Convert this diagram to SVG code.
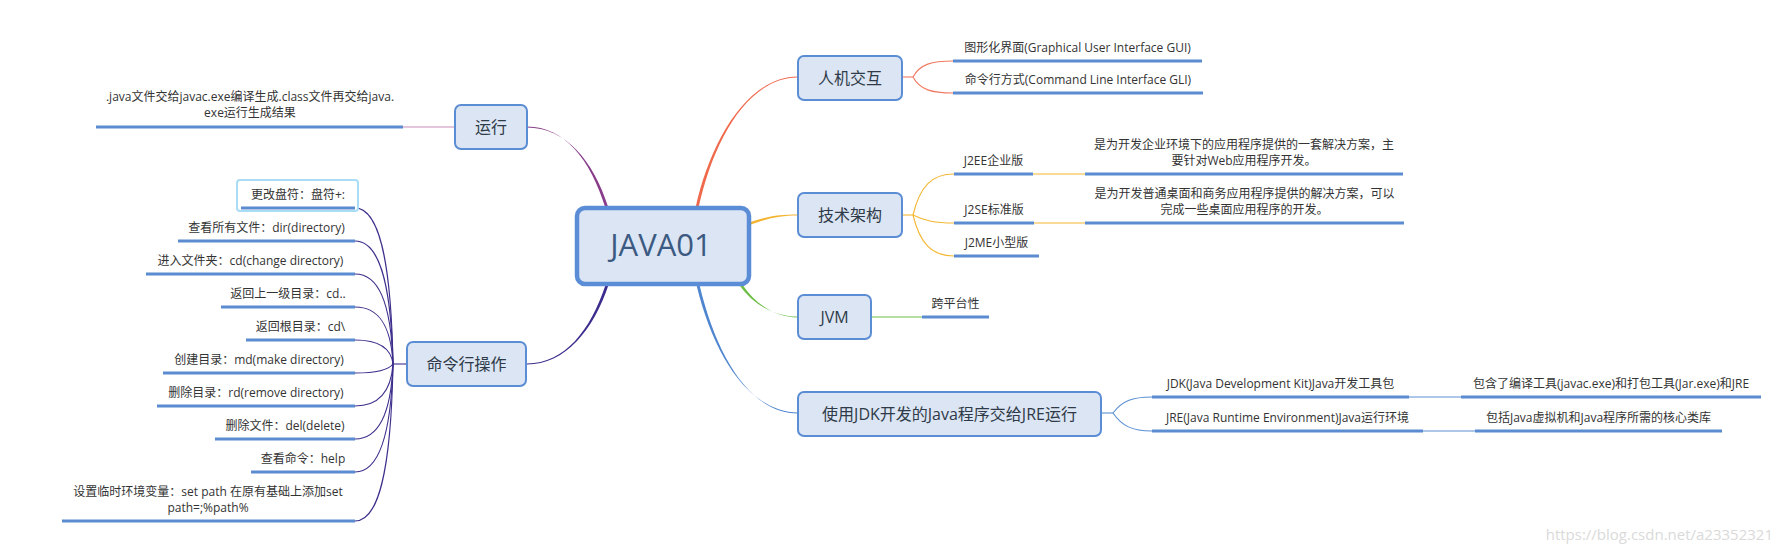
<svg xmlns="http://www.w3.org/2000/svg" width="1783" height="553" viewBox="0 0 1783 553">
<style>
text{font-family:"Open Sans","Noto Sans CJK SC",sans-serif;fill:#333;}
.c{font-size:12px;text-anchor:middle;}
.n{font-size:16px;text-anchor:middle;fill:#2f3a48;}
.box{fill:#dbe5f3;stroke:#5b8dd4;stroke-width:2;}
.ul{stroke:#5b8bd0;stroke-width:3;fill:none;}
.thin{fill:none;stroke-width:1.1;}
</style>
<rect width="1783" height="553" fill="#fff"/>
<g id="connectors">
  <path d="M605.5,208 C590.5,160 565,126.5 527,126.5 L527,127.5 C565,127.5 593.5,160 608.5,208 Z" fill="#883c8a"/>
  <path d="M695.5,208 C710.5,140 748,76.5 798,76.5 L798,77.5 C748,77.5 713.5,140 698.5,208 Z" fill="#ef6a4c"/>
  <path d="M749,222.8 C768,215.8 780,214.5 798,214.5 L798,215.5 C780,215.5 768,218.2 749,225.2 Z" fill="#f3b531"/>
  <path d="M739.8,285.5 C754,305.5 775,316.5 798,316.5 L798,317.5 C775,317.5 756,304.5 742.2,284.5 Z" fill="#6cbe45"/>
  <path d="M696.5,285 C714.5,360 752,412.5 798,412.5 L798,413.5 C752,413.5 717.5,360 699.5,285 Z" fill="#4f86cf"/>
  <path d="M605.5,285 C590.5,330 565,363.5 527,363.5 L527,364.5 C565,364.5 593.5,330 608.5,285 Z" fill="#3d2c8d"/>
  <path class="thin" stroke="#c98db9" stroke-width="1.5" d="M403,127 H455"/>
  <g class="thin" stroke="#f07a62">
    <path d="M902,77 H913"/>
    <path d="M913,77 C920,64 932,61 953,61"/>
    <path d="M913,77 C920,90 932,93 953,93"/>
  </g>
  <g class="thin" stroke="#f4b731">
    <path d="M902,215 H913"/>
    <path d="M913,215 C920,186 932,174 954,174"/>
    <path d="M913,215 C925,221 935,223 954,223"/>
    <path d="M913,215 C920,244 932,256 954,256"/>
    <path d="M1033,174 H1085"/>
    <path d="M1034,223 H1085"/>
  </g>
  <path class="thin" stroke="#6cbe45" d="M871,317 H922"/>
  <g class="thin" stroke="#5a8fd2">
    <path d="M1101,413 H1113"/>
    <path d="M1113,413 C1122,401 1132,397 1152,397"/>
    <path d="M1113,413 C1122,426 1132,431 1152,431"/>
    <path d="M1409,397 H1461"/>
    <path d="M1423,431 H1475"/>
  </g>
  <g class="thin" stroke="#3d2e8c">
    <path d="M393,364 H407"/>
    <path d="M393,364 C391,255 378,208 355,208"/>
    <path d="M393,364 C391,278 378,241 355,241"/>
    <path d="M393,364 C391,301 378,274 355,274"/>
    <path d="M393,364 C391,324 378,307 355,307"/>
    <path d="M393,364 C391,347 378,340 355,340"/>
    <path d="M393,364 C388,371 375,373 355,373"/>
    <path d="M393,364 C391,393 378,406 355,406"/>
    <path d="M393,364 C391,416 378,439 355,439"/>
    <path d="M393,364 C391,439 378,472 355,472"/>
    <path d="M393,364 C391,474 378,521 355,521"/>
  </g>
</g>
<g id="root">
  <rect x="577" y="208" width="172" height="76" rx="8" fill="#dbe5f3" stroke="#5b8dd6" stroke-width="4.5"/>
  <text x="661" y="256" style="font-size:31px;text-anchor:middle;fill:#3b5a82">JAVA01</text>
</g>
<g id="n-run">
  <rect class="box" x="455" y="105" width="72" height="44" rx="6"/>
  <text class="n" x="491" y="133">运行</text>
</g>
<g id="n-run-1">
  <text class="c" x="250" y="101">.java文件交给javac.exe编译生成.class文件再交给java.</text>
  <text class="c" x="250" y="117">exe运行生成结果</text>
  <path class="ul" d="M96,127 H403"/>
</g>
<g id="n-cmd">
  <rect class="box" x="407" y="342" width="119" height="44" rx="6"/>
  <text class="n" x="466.5" y="370">命令行操作</text>
</g>
<g id="n-cmd-1">
  <rect x="237" y="180" width="121" height="31" rx="3" fill="#fff" stroke="#a9ddf5" stroke-width="2"/>
  <text class="c" x="298" y="199">更改盘符：盘符+:</text>
  <path class="ul" d="M241,208 H355"/>
</g>
<g id="n-cmd-2"><text class="c" x="266.5" y="232">查看所有文件：dir(directory)</text><path class="ul" d="M178,241 H355"/></g>
<g id="n-cmd-3"><text class="c" x="250.5" y="265">进入文件夹：cd(change directory)</text><path class="ul" d="M146,274 H355"/></g>
<g id="n-cmd-4"><text class="c" x="288" y="298">返回上一级目录：cd..</text><path class="ul" d="M221,307 H355"/></g>
<g id="n-cmd-5"><text class="c" x="300.5" y="331">返回根目录：cd\</text><path class="ul" d="M246,340 H355"/></g>
<g id="n-cmd-6"><text class="c" x="259" y="364">创建目录：md(make directory)</text><path class="ul" d="M163,373 H355"/></g>
<g id="n-cmd-7"><text class="c" x="256" y="397">删除目录：rd(remove directory)</text><path class="ul" d="M157,406 H355"/></g>
<g id="n-cmd-8"><text class="c" x="285" y="430">删除文件：del(delete)</text><path class="ul" d="M215,439 H355"/></g>
<g id="n-cmd-9"><text class="c" x="303" y="463">查看命令：help</text><path class="ul" d="M251,472 H355"/></g>
<g id="n-cmd-10">
  <text class="c" x="208" y="496">设置临时环境变量：set path 在原有基础上添加set</text>
  <text class="c" x="208" y="512">path=;%path%</text>
  <path class="ul" d="M62,521 H355"/>
</g>
<g id="n-hci">
  <rect class="box" x="798" y="56" width="104" height="44" rx="6"/>
  <text class="n" x="850" y="84">人机交互</text>
</g>
<g id="n-hci-1"><text class="c" x="1077.5" y="52">图形化界面(Graphical User Interface GUI)</text><path class="ul" d="M953,61 H1202"/></g>
<g id="n-hci-2"><text class="c" x="1078" y="84">命令行方式(Command Line Interface GLI)</text><path class="ul" d="M953,93 H1203"/></g>
<g id="n-arch">
  <rect class="box" x="798" y="193" width="104" height="44" rx="6"/>
  <text class="n" x="850" y="221">技术架构</text>
</g>
<g id="n-j2ee"><text class="c" x="993.5" y="165">J2EE企业版</text><path class="ul" d="M954,174 H1033"/></g>
<g id="n-j2ee-d">
  <text class="c" x="1244" y="149">是为开发企业环境下的应用程序提供的一套解决方案，主</text>
  <text class="c" x="1244" y="165">要针对Web应用程序开发。</text>
  <path class="ul" d="M1085,174 H1403"/>
</g>
<g id="n-j2se"><text class="c" x="994" y="214">J2SE标准版</text><path class="ul" d="M954,223 H1034"/></g>
<g id="n-j2se-d">
  <text class="c" x="1244.5" y="198">是为开发普通桌面和商务应用程序提供的解决方案，可以</text>
  <text class="c" x="1244.5" y="214">完成一些桌面应用程序的开发。</text>
  <path class="ul" d="M1085,223 H1404"/>
</g>
<g id="n-j2me"><text class="c" x="996.5" y="247">J2ME小型版</text><path class="ul" d="M954,256 H1039"/></g>
<g id="n-jvm">
  <rect class="box" x="798" y="295" width="73" height="44" rx="6"/>
  <text class="n" x="834.5" y="323">JVM</text>
</g>
<g id="n-jvm-1"><text class="c" x="955.5" y="308">跨平台性</text><path class="ul" d="M922,317 H989"/></g>
<g id="n-jdk">
  <rect class="box" x="798" y="392" width="303" height="44" rx="6"/>
  <text class="n" x="949.5" y="420">使用JDK开发的Java程序交给JRE运行</text>
</g>
<g id="n-jdk-1"><text class="c" x="1280.5" y="388">JDK(Java Development Kit)Java开发工具包</text><path class="ul" d="M1152,397 H1409"/></g>
<g id="n-jdk-1d"><text class="c" x="1611" y="388">包含了编译工具(javac.exe)和打包工具(Jar.exe)和JRE</text><path class="ul" d="M1461,397 H1761"/></g>
<g id="n-jre"><text class="c" x="1287.5" y="422">JRE(Java Runtime Environment)Java运行环境</text><path class="ul" d="M1152,431 H1423"/></g>
<g id="n-jre-d"><text class="c" x="1598.5" y="422">包括Java虚拟机和Java程序所需的核心类库</text><path class="ul" d="M1475,431 H1722"/></g>
<text x="1773" y="540" style="font-size:15px;text-anchor:end;fill:#dadada">https://blog.csdn.net/a23352321</text>
</svg>
